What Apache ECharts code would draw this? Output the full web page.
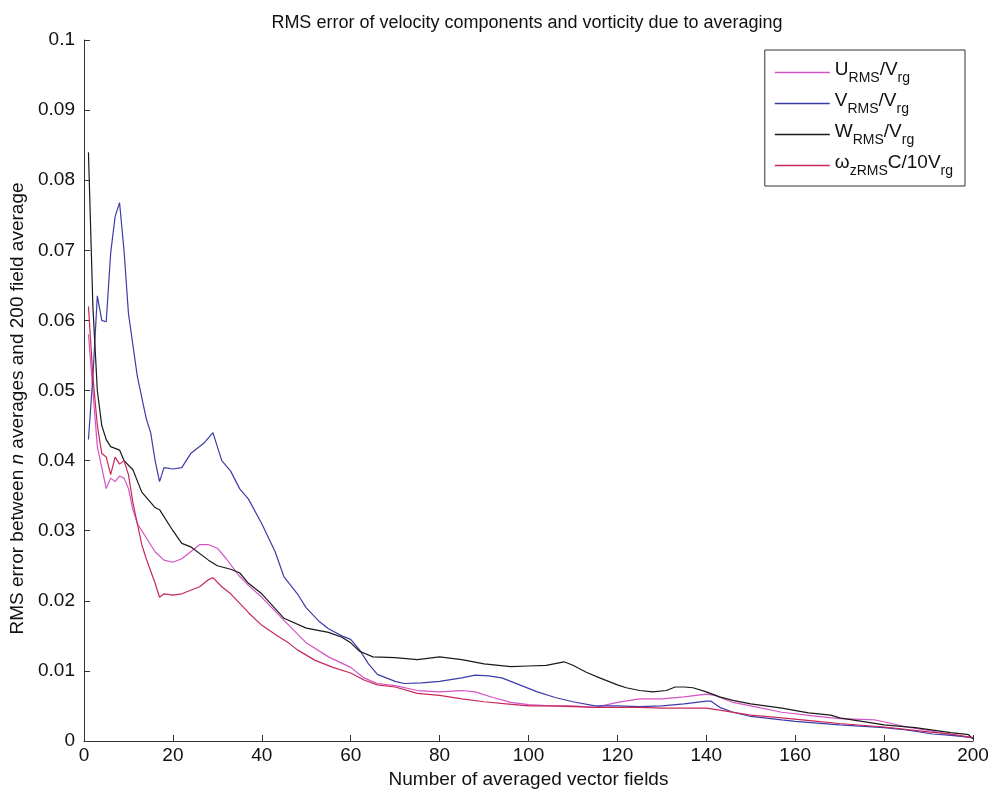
<!DOCTYPE html>
<html>
<head>
<meta charset="utf-8">
<script src="https://cdn.jsdelivr.net/npm/echarts@6/dist/echarts.min.js"></script>
<style>html,body{margin:0;padding:0;background:#fff}#c{width:998px;height:794px}</style>
</head>
<body>
<div id="c"></div>
<script>
const xTicks = [0,20,40,60,80,100,120,140,160,180,200];
const yTicks = [0,0.01,0.02,0.03,0.04,0.05,0.06,0.07,0.08,0.09,0.1];

const uN = [1,2,3,4,5,6,7,8,9,10,11,12,14,16,18,20,22,24,26,28,30,32,35,37,40,45,50,55,60,63,66,70,75,80,85,88,92,96,100,105,110,115,120,125,130,135,140,142,146,150,157,165,170,178,181,185,190,195,200];
const uV = [0.058,0.05,0.042,0.039,0.036,0.0375,0.037,0.0378,0.0375,0.036,0.033,0.031,0.029,0.027,0.0258,0.0255,0.026,0.027,0.028,0.028,0.0275,0.026,0.0235,0.0222,0.0205,0.0172,0.014,0.012,0.0105,0.009,0.0082,0.0079,0.0072,0.007,0.0072,0.007,0.0062,0.0055,0.0052,0.005,0.005,0.0048,0.0055,0.006,0.006,0.0063,0.0067,0.0065,0.0055,0.005,0.0041,0.0035,0.0032,0.003,0.0026,0.002,0.0015,0.0009,0.0004];

const vN = [1,2,3,4,5,6,7,8,9,10,12,14,15,16,17,18,20,22,24,25,27,29,31,33,35,37,40,43,45,48,50,53,55,58,60,62,64,66,70,72,76,80,85,88,91,94,98,102,106,110,115,120,125,130,135,140,141,143,146,150,157,160,170,180,185,191,195,200];
const vV = [0.043,0.052,0.0635,0.06,0.0598,0.0696,0.0748,0.0768,0.07,0.061,0.052,0.046,0.044,0.040,0.037,0.039,0.0388,0.039,0.041,0.0415,0.0425,0.044,0.040,0.0385,0.036,0.0345,0.031,0.027,0.0234,0.021,0.019,0.017,0.016,0.015,0.0145,0.013,0.011,0.0095,0.0085,0.0082,0.0083,0.0085,0.009,0.0094,0.0093,0.009,0.008,0.007,0.0062,0.0056,0.005,0.005,0.0049,0.005,0.0053,0.0057,0.0057,0.0048,0.0041,0.0035,0.003,0.0028,0.0023,0.0019,0.0016,0.001,0.0008,0.0005];

const wN = [1,2,3,4,5,6,8,9,11,13,16,17,20,22,24,28,30,33,35,37,40,45,50,55,58,60,62,65,70,75,80,85,90,96,100,104,108,110,113,116,120,122,125,128,131,133,135,137,140,143,146,150,157,163,168,170,175,180,187,195,199,200];
const wV = [0.084,0.062,0.05,0.045,0.043,0.042,0.0415,0.040,0.0387,0.0355,0.0333,0.033,0.030,0.0282,0.0277,0.0258,0.025,0.0245,0.024,0.0225,0.021,0.0175,0.0161,0.0155,0.0148,0.014,0.0128,0.012,0.0119,0.0116,0.012,0.0116,0.011,0.0106,0.0107,0.0108,0.0113,0.0108,0.0098,0.009,0.008,0.0076,0.0072,0.007,0.0072,0.0077,0.0077,0.0076,0.007,0.0063,0.0058,0.0053,0.0047,0.004,0.0037,0.0033,0.0028,0.0023,0.0019,0.0012,0.0009,0.0003];

const oN = [1,2,3,4,5,6,7,8,9,10,11,12,13,14,16,17,18,20,22,24,26,28,29,31,33,36,37,40,44,46,48,52,56,60,63,66,70,75,80,85,90,95,100,105,110,115,120,125,130,135,140,143,150,157,165,170,180,190,195,200];
const oV = [0.062,0.052,0.045,0.041,0.0405,0.038,0.0405,0.0395,0.040,0.038,0.034,0.031,0.028,0.026,0.0225,0.0205,0.021,0.0208,0.021,0.0215,0.022,0.023,0.0233,0.022,0.021,0.019,0.0183,0.0165,0.0148,0.014,0.013,0.0115,0.0105,0.0097,0.0087,0.008,0.0077,0.0068,0.0065,0.006,0.0056,0.0053,0.005,0.005,0.0049,0.0048,0.0048,0.0048,0.0047,0.0047,0.0047,0.0044,0.0037,0.0033,0.0028,0.0025,0.002,0.0013,0.001,0.0005];

const names = ['U','V','W','omega'];
const labels = {
  U: '{m|U}{s|RMS}{m|/V}{s|rg}',
  V: '{m|V}{s|RMS}{m|/V}{s|rg}',
  W: '{m|W}{s|RMS}{m|/V}{s|rg}',
  omega: '{m|ω}{s|zRMS}{m|C/10V}{s|rg}'
};
const colors = ['#d453c4','#3c3ca8','#1a1a1a','#c8285a'];

const zip = (a,b) => a.map((n,i)=>[n,b[i]]);
const FONT = '"Liberation Sans",Arial,sans-serif';

const chart = echarts.init(document.getElementById('c'));
chart.setOption({
  animation: false,
  backgroundColor: '#fff',
  title: {
    text: 'RMS error of velocity components and vorticity due to averaging',
    left: 522, top: 9, textAlign: 'center',
    textStyle: {fontFamily: FONT, fontSize: 18, fontWeight: 'normal', color: '#111'}
  },
  grid: {left: 84, right: 25, top: 40, bottom: 53, containLabel: false, outerBoundsMode: 'none'},
  legend: {
    orient: 'vertical', right: 33, top: 50,
    data: names.map(n => ({name: n, icon: 'rect'})),
    formatter: n => labels[n],
    borderColor: '#333', borderWidth: 1, padding: [10, 12, 8, 10],
    itemWidth: 55, itemHeight: 1.5, itemGap: 6,
    textStyle: {
      fontFamily: FONT, color: '#111',
      rich: {
        m: {fontFamily: FONT, fontSize: 19, lineHeight: 19, verticalAlign: 'top', color: '#111'},
        s: {fontFamily: FONT, fontSize: 14, lineHeight: 25, verticalAlign: 'bottom', color: '#111'}
      }
    }
  },
  xAxis: {
    type: 'value', min: 0, max: 200, interval: 20,
    name: 'Number of averaged vector fields', nameLocation: 'middle', nameGap: 16,
    nameTextStyle: {fontFamily: FONT, fontSize: 19, color: '#111', verticalAlign: 'top'},
    axisLine: {lineStyle: {color: '#333', width: 1}},
    axisTick: {inside: true, length: 6, lineStyle: {color: '#333'}},
    axisLabel: {fontFamily: FONT, fontSize: 19, color: '#111', margin: 5,
      formatter: v => xTicks.includes(v) ? String(v) : ''},
    splitLine: {show: false}
  },
  yAxis: {
    type: 'value', min: 0, max: 0.1, interval: 0.01,
    name: '{a|RMS error between }{i|n}{a| averages and 200 field average}',
    nameLocation: 'middle', nameGap: 55, nameRotate: 90,
    nameTextStyle: {
      fontFamily: FONT, fontSize: 19, color: '#111',
      padding: [0, 36, 0, 0],
      rich: {
        a: {fontFamily: FONT, fontSize: 19, color: '#111'},
        i: {fontFamily: FONT, fontSize: 19, fontStyle: 'italic', color: '#111'}
      }
    },
    axisLine: {show: true, lineStyle: {color: '#333', width: 1}},
    axisTick: {show: true, inside: true, length: 6, lineStyle: {color: '#333'}},
    axisLabel: {fontFamily: FONT, fontSize: 19, color: '#111', margin: 9,
      formatter: v => { const r = +v.toFixed(2); return yTicks.some(t => Math.abs(t - r) < 1e-9) ? String(r) : ''; }},
    splitLine: {show: false}
  },
  series: [
    {name: 'U', type: 'line', data: zip(uN, uV)},
    {name: 'V', type: 'line', data: zip(vN, vV)},
    {name: 'W', type: 'line', data: zip(wN, wV)},
    {name: 'omega', type: 'line', data: zip(oN, oV)}
  ].map((s, i) => Object.assign(s, {
    symbol: 'none', showSymbol: false, smooth: false,
    color: colors[i],
    itemStyle: {color: colors[i]},
    lineStyle: {color: colors[i], width: 1.2}
  }))
});
</script>
</body>
</html>
